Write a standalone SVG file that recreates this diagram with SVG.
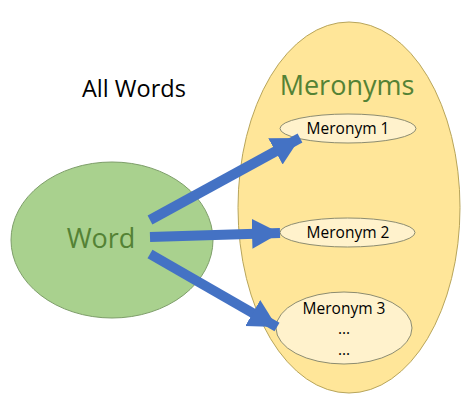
<svg xmlns="http://www.w3.org/2000/svg" width="474" height="401" viewBox="0 0 474 401">
<defs>
<marker id="ah" markerUnits="userSpaceOnUse" markerWidth="32" markerHeight="32" refX="28" refY="15" orient="auto">
<path d="M0,0 L28,15 L0,30 Z" fill="#4472C4"/>
</marker>
<style>
text{font-family:"Open Sans","Liberation Sans",sans-serif}
.big{fill:#548235;font-size:27px}
.m{fill:#000;font-size:15.5px;text-anchor:middle}
.sub{fill:#FFF2CC;stroke:#8c8c70;stroke-width:1}
.arr{stroke:#4472C4;stroke-width:10;fill:none;marker-end:url(#ah)}
</style>
</defs>
<rect width="474" height="401" fill="#fff"/>
<g id="all-words"><text x="82" y="97" font-size="23.5" fill="#000">All Words</text></g>
<g id="meronyms">
<ellipse cx="349" cy="207.5" rx="111" ry="185.5" fill="#FFE699" stroke="#B8A55A" stroke-width="1"/>
<text x="347" y="95" class="big" text-anchor="middle">Meronyms</text>
</g>
<g id="word">
<ellipse cx="112" cy="240" rx="101" ry="78" fill="#A9D18E" stroke="#7E9E6A" stroke-width="1"/>
<text x="101" y="248" class="big" text-anchor="middle">Word</text>
</g>
<g id="meronym1">
<ellipse class="sub" cx="348" cy="128.5" rx="68" ry="14.5"/>
<text class="m" x="348" y="134">Meronym 1</text>
</g>
<g id="meronym2">
<ellipse class="sub" cx="347.5" cy="232.5" rx="67.5" ry="14.5"/>
<text class="m" x="348" y="238">Meronym 2</text>
</g>
<g id="meronym3">
<ellipse class="sub" cx="344" cy="328" rx="68" ry="36"/>
<text class="m" x="344" y="314">Meronym 3</text>
<text class="m" x="344" y="334">...</text>
<text class="m" x="344" y="355">...</text>
</g>
<g id="connectors">
<line class="arr" x1="150" y1="220" x2="300" y2="138"/>
<line class="arr" x1="150" y1="237" x2="280" y2="233"/>
<line class="arr" x1="150" y1="254" x2="277" y2="327"/>
</g>
</svg>
